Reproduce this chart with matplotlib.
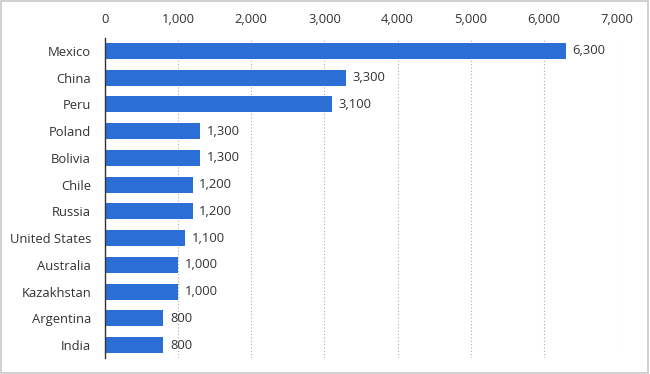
import matplotlib
matplotlib.use("Agg")
import matplotlib.pyplot as plt
from matplotlib.patches import Rectangle

countries = ["Mexico", "China", "Peru", "Poland", "Bolivia", "Chile", "Russia",
             "United States", "Australia", "Kazakhstan", "Argentina", "India"]
values = [6300, 3300, 3100, 1300, 1300, 1200, 1200, 1100, 1000, 1000, 800, 800]
xticks = [0, 1000, 2000, 3000, 4000, 5000, 6000, 7000]

plt.rcParams['font.family'] = ['Open Sans', 'DejaVu Sans']
FS = 9.4

fig = plt.figure(figsize=(6.5, 3.74), dpi=100)
ax = fig.add_axes([0.1615, 0.0417, 0.9492 - 0.1615, 0.8995 - 0.0417])

ypos = list(range(len(countries)))
ax.barh(ypos, values, height=0.6, color="#2b6fd6", zorder=3)
for y, v in zip(ypos, values):
    ax.text(v + 90, y, f"{v:,}", va="center", ha="left", fontsize=FS, color="#333333")

ax.set_ylim(len(countries) - 0.5, -0.5)
ax.set_xlim(0, 7000)
ax.set_yticks(ypos)
ax.set_yticklabels(countries, fontsize=FS, color="#333333")
ax.set_xticks(xticks)
ax.set_xticklabels([f"{t:,}" for t in xticks], fontsize=FS, color="#333333")
ax.xaxis.tick_top()
ax.tick_params(axis="y", length=0, pad=10)
ax.tick_params(axis="x", length=0, pad=8)
ax.grid(axis="x", linestyle=(0, (1, 2)), color="#aaaaaa", linewidth=0.8, zorder=0)
for s in ["top", "right", "bottom"]:
    ax.spines[s].set_visible(False)
ax.spines["left"].set_color("#333333")
ax.spines["left"].set_linewidth(1.0)
ax.spines["left"].set_zorder(4)

fig.patches.append(Rectangle((0.002, 0.003), 0.995, 0.993, transform=fig.transFigure,
                             fill=False, edgecolor="#c8c8c8", linewidth=1.2))
fig.savefig("out.png", dpi=100)
